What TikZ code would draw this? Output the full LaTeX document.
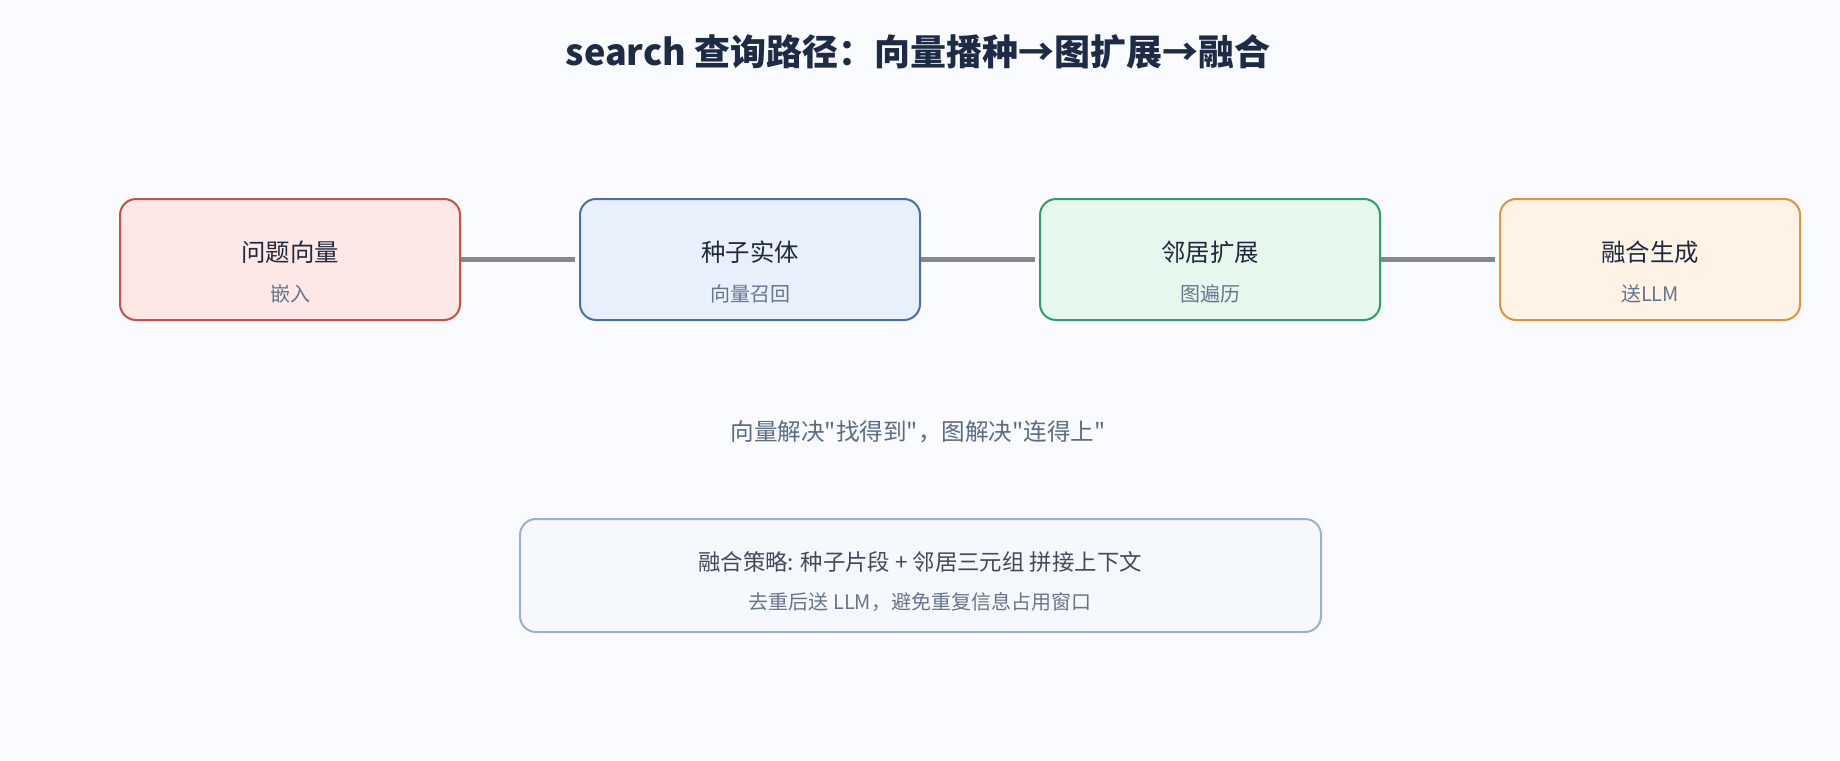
\documentclass[tikz,border=0pt]{standalone}
\usepackage{fontspec}
\setmainfont{Noto Sans CJK SC}[Ligatures=TeXOff]
\usepackage{tikz}

\definecolor{bgc}{HTML}{F9FBFE}
\definecolor{titlec}{HTML}{1E2B47}
\definecolor{headc}{HTML}{1F2A3F}
\definecolor{subc}{HTML}{66758E}
\definecolor{notec}{HTML}{5C6B86}
\definecolor{linkc}{HTML}{888888}
\definecolor{redfill}{HTML}{FDE8E6}
\definecolor{reddraw}{HTML}{C7504B}
\definecolor{bluefill}{HTML}{E8F0FC}
\definecolor{bluedraw}{HTML}{4A6EA6}
\definecolor{greenfill}{HTML}{E6F7EE}
\definecolor{greendraw}{HTML}{2E9E6B}
\definecolor{orangefill}{HTML}{FEF3E4}
\definecolor{orangedraw}{HTML}{E0953A}
\definecolor{notefill}{HTML}{F5F8FD}
\definecolor{notedraw}{HTML}{9BB0CF}

\begin{document}
\begin{tikzpicture}[x=0.5pt,y=-0.5pt]
		\tikzstyle{every node}+=[inner sep=0pt]
		\tikzstyle{stage}=[draw, rounded corners=8pt, line width=1pt, minimum width=170pt, minimum height=60.5pt]
		\tikzstyle{head}=[text=headc, font=\fontsize{12.2}{14}\selectfont]
		\tikzstyle{sub}=[text=subc, font=\fontsize{10}{12}\selectfont]
		\tikzstyle{link}=[draw=linkc, line width=2.2pt, shorten >=2pt]
		\fill [bgc] (0,0) rectangle (1840,760);
		\useasboundingbox (0,0) rectangle (1840,760);
		\draw (918,52) node [text=titlec, font=\fontsize{18}{21}\bfseries\selectfont] (title) {search 查询路径：向量播种→图扩展→融合};
		\draw (290,259.5) node [stage, draw=reddraw, fill=redfill] (embed) {};
		\draw (290,252) node [head] (embedhead) {问题向量};
		\draw (290,294) node [sub] (embedsub) {嵌入};
		\draw (750,259.5) node [stage, draw=bluedraw, fill=bluefill] (seed) {};
		\draw (750,252) node [head] (seedhead) {种子实体};
		\draw (750,294) node [sub] (seedsub) {向量召回};
		\draw (1210,259.5) node [stage, draw=greendraw, fill=greenfill] (expand) {};
		\draw (1210,252) node [head] (expandhead) {邻居扩展};
		\draw (1210,294) node [sub] (expandsub) {图遍历};
		\draw (1650,259.5) node [stage, draw=orangedraw, fill=orangefill, minimum width=150pt] (fuse) {};
		\draw (1650,252) node [head] (fusehead) {融合生成};
		\draw (1650,294) node [sub] (fusesub) {送LLM};
		\draw [link] (embed.east) -- (seed.west);
		\draw [link] (seed.east) -- (expand.west);
		\draw [link] (expand.east) -- (fuse.west);
		\draw (918,432) node [text=notec, font=\fontsize{11.8}{14}\selectfont] (motto) {向量解决"找得到"，图解决"连得上"};
		\draw (920.5,575.5) node [draw=notedraw, fill=notefill, rounded corners=8pt, line width=1pt, minimum width=400.5pt, minimum height=56.5pt] (plan) {};
		\draw (920,562) node [text=headc!85!white, font=\fontsize{11.2}{13}\selectfont] (planhead) {融合策略: 种子片段 + 邻居三元组 拼接上下文};
		\draw (920,602) node [sub] (plansub) {去重后送 LLM，避免重复信息占用窗口};
\end{tikzpicture}
\end{document}
